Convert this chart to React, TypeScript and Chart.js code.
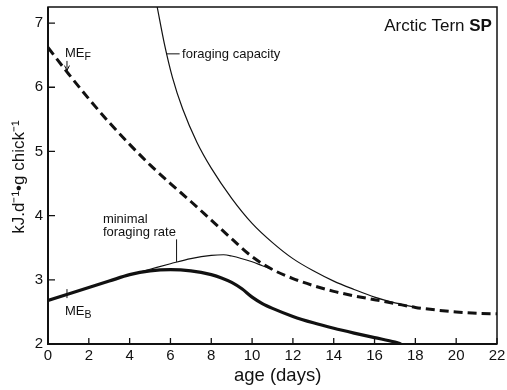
import React, { useEffect, useRef } from "react";
import { Chart, registerables } from "chart.js";

Chart.register(...registerables);

const FONT = '"Liberation Sans", Arial, Helvetica, sans-serif';
const INK = "#111111";

// tick labels
const xTicks = [0, 2, 4, 6, 8, 10, 12, 14, 16, 18, 20, 22];
const yTicks = [2, 3, 4, 5, 6, 7];

// ME_F (dashed)
const mefAge = [0, 1, 2, 3, 4, 5, 6, 7, 8, 9, 10, 11, 12, 13, 14, 15, 16, 17, 18, 19, 20, 21, 22];
const mefVal = [6.62, 6.21, 5.82, 5.45, 5.11, 4.79, 4.5, 4.22, 3.93, 3.64, 3.36, 3.16, 3.02, 2.91, 2.82, 2.75, 2.69, 2.63, 2.57, 2.53, 2.5, 2.48, 2.47];

// ME_B (thick solid)
const mebAge = [0, 1, 2, 3, 4, 5, 6, 7, 8, 8.5, 9, 9.5, 10, 10.5, 11, 12, 13, 14, 15, 16, 17, 17.3];
const mebVal = [2.68, 2.78, 2.88, 2.98, 3.08, 3.14, 3.16, 3.14, 3.08, 3.03, 2.96, 2.86, 2.73, 2.63, 2.555, 2.43, 2.33, 2.245, 2.17, 2.1, 2.03, 2.0];

// minimal foraging rate (thin)
const minAge = [4, 5, 6, 7, 8, 8.6, 9, 10, 10.5, 11];
const minVal = [3.08, 3.165, 3.25, 3.33, 3.38, 3.39, 3.37, 3.28, 3.22, 3.16];

// foraging capacity (thin)
const capAge = [5.35, 5.7, 6.1, 6.6, 7.3, 8, 9, 10, 11, 12, 13, 14, 15, 16, 17, 18];
const capVal = [7.25, 6.68, 6.15, 5.66, 5.14, 4.74, 4.27, 3.88, 3.58, 3.33, 3.14, 2.98, 2.85, 2.73, 2.64, 2.57];

const toXY = (xs: number[], ys: number[]) => xs.map((x, i) => ({ x, y: ys[i] }));

export default function App() {
  const ref = useRef<HTMLCanvasElement>(null);

  useEffect(() => {
    if (!ref.current) return;

    const decor = {
      id: "decor",
      afterDraw(chart: any) {
        const ctx = chart.ctx as CanvasRenderingContext2D;
        const { left, right, top, bottom } = chart.chartArea;
        const xs = chart.scales.x;
        const ys = chart.scales.y;
        const px = (v: number) => xs.getPixelForValue(v);
        const py = (v: number) => ys.getPixelForValue(v);
        ctx.save();
        ctx.strokeStyle = INK;
        ctx.fillStyle = INK;

        // frame
        ctx.lineWidth = 1.5;
        ctx.strokeRect(left, top, right - left, bottom - top);
        ctx.lineWidth = 2;
        ctx.beginPath();
        ctx.moveTo(left, top);
        ctx.lineTo(left, bottom);
        ctx.lineTo(right, bottom);
        ctx.stroke();

        // inward ticks
        ctx.lineWidth = 1.3;
        ctx.beginPath();
        xTicks.forEach((v) => {
          const x = px(v);
          ctx.moveTo(x, bottom);
          ctx.lineTo(x, bottom - 6);
        });
        yTicks.forEach((v) => {
          const y = py(v);
          ctx.moveTo(left, y);
          ctx.lineTo(left + 7, y);
        });
        ctx.stroke();

        // annotation leaders
        ctx.lineWidth = 1;
        ctx.beginPath();
        ctx.moveTo(px(0.93), py(6.41));
        ctx.lineTo(px(0.93), py(6.26));
        ctx.moveTo(px(0.93), py(2.855));
        ctx.lineTo(px(0.93), py(2.715));
        ctx.moveTo(px(5.8), py(6.52));
        ctx.lineTo(px(6.45), py(6.52));
        ctx.moveTo(px(6.3), py(3.63));
        ctx.lineTo(px(6.3), py(3.28));
        ctx.stroke();
        const ax = px(0.93);
        const ay = py(6.26);
        ctx.beginPath();
        ctx.moveTo(ax - 2.5, ay - 5);
        ctx.lineTo(ax, ay);
        ctx.lineTo(ax + 2.5, ay - 5);
        ctx.stroke();

        // texts
        ctx.textBaseline = "alphabetic";
        ctx.textAlign = "left";
        ctx.font = `13px ${FONT}`;
        ctx.fillText("ME", px(0.83), py(6.47));
        let w = ctx.measureText("ME").width;
        ctx.font = `10.5px ${FONT}`;
        ctx.fillText("F", px(0.83) + w, py(6.425));

        ctx.font = `13px ${FONT}`;
        ctx.fillText("ME", px(0.83), py(2.45));
        w = ctx.measureText("ME").width;
        ctx.font = `10.5px ${FONT}`;
        ctx.fillText("B", px(0.83) + w, py(2.405));

        ctx.font = `13px ${FONT}`;
        ctx.fillText("foraging capacity", px(6.57), py(6.46));
        ctx.fillText("minimal", px(2.69), py(3.89));
        ctx.fillText("foraging rate", px(2.69), py(3.69));

        // title
        const tx = px(21.75);
        const ty = py(6.88);
        ctx.textAlign = "right";
        ctx.font = `bold 17px ${FONT}`;
        ctx.fillText("SP", tx, ty);
        const sw = ctx.measureText("SP").width;
        ctx.font = `17px ${FONT}`;
        ctx.fillText("Arctic Tern ", tx - sw, ty);

        // axis titles
        ctx.textAlign = "center";
        ctx.textBaseline = "middle";
        ctx.font = `18.5px ${FONT}`;
        ctx.fillText("age (days)", px(11.25), bottom + 32);

        ctx.translate(left - 29, py(4.6));
        ctx.rotate(-Math.PI / 2);
        ctx.font = `17px ${FONT}`;
        ctx.fillText("kJ.d⁻¹•g chick⁻¹", 0, 0);

        ctx.restore();
      },
    };

    const lineBase = {
      borderColor: INK,
      backgroundColor: INK,
      pointRadius: 0,
      fill: false,
      cubicInterpolationMode: "monotone" as const,
    };

    const chart = new Chart(ref.current, {
      type: "line",
      data: {
        datasets: [
          { ...lineBase, label: "minimal foraging rate", data: toXY(minAge, minVal), borderWidth: 1.1 },
          { ...lineBase, label: "foraging capacity", data: toXY(capAge, capVal), borderWidth: 1.2 },
          { ...lineBase, label: "ME_F", data: toXY(mefAge, mefVal), borderWidth: 3, borderDash: [9, 5] },
          { ...lineBase, label: "ME_B", data: toXY(mebAge, mebVal), borderWidth: 3.2 },
        ],
      },
      options: {
        animation: false,
        responsive: false,
        maintainAspectRatio: false,
        layout: { padding: { left: 11, top: 7, right: 10, bottom: 4 } },
        plugins: { legend: { display: false }, tooltip: { enabled: false } },
        scales: {
          x: {
            type: "linear",
            min: 0,
            max: 22,
            afterBuildTicks: (s: any) => {
              s.ticks = xTicks.map((v) => ({ value: v }));
            },
            grid: { display: false, drawTicks: false },
            border: { display: false },
            ticks: { font: { family: FONT, size: 15 }, color: INK, padding: 3, maxRotation: 0, autoSkip: false },
            title: { display: false },
            afterFit: (s: any) => {
              s.height = 42;
              s.paddingLeft = 0;
              s.paddingRight = 0;
              s.paddingTop = 0;
              s.paddingBottom = 0;
            },
          },
          y: {
            type: "linear",
            min: 2,
            max: 7.25,
            afterBuildTicks: (s: any) => {
              s.ticks = yTicks.map((v) => ({ value: v }));
            },
            grid: { display: false, drawTicks: false },
            border: { display: false },
            ticks: { font: { family: FONT, size: 15 }, color: INK, padding: 5, autoSkip: false },
            title: { display: false },
            afterFit: (s: any) => {
              s.width = 37;
              s.paddingLeft = 0;
              s.paddingRight = 0;
              s.paddingTop = 0;
              s.paddingBottom = 0;
            },
          },
        },
      },
      plugins: [decor],
    });

    return () => chart.destroy();
  }, []);

  return (
    <canvas
      ref={ref}
      width={507}
      height={390}
      style={{ position: "absolute", left: 0, top: 0, width: 507, height: 390, background: "#ffffff" }}
    />
  );
}
